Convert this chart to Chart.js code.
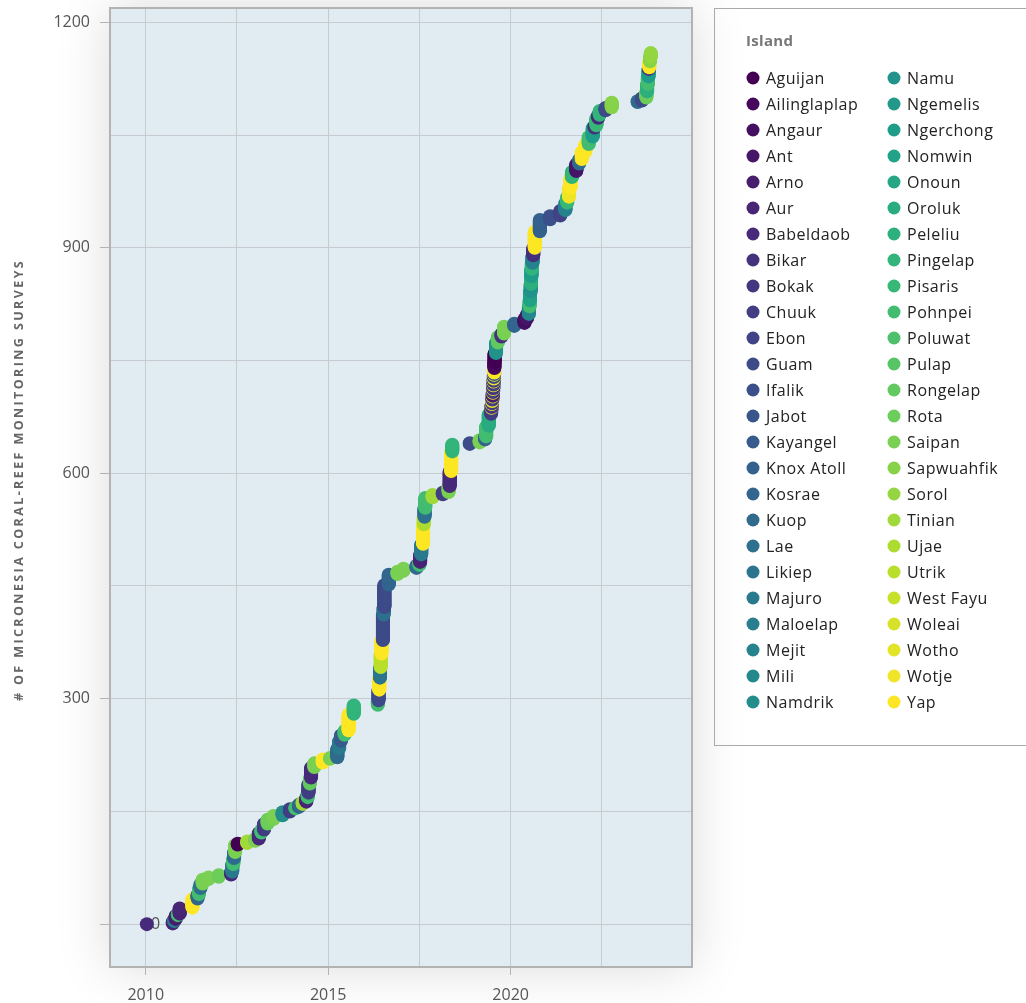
<!DOCTYPE html>
<html>
<head>
<meta charset="utf-8">
<script src="https://cdn.jsdelivr.net/npm/chart.js@4.4.1/dist/chart.umd.min.js"></script>
<style>
html,body{margin:0;padding:0;background:#fff;}
canvas{display:block;}
</style>
</head>
<body>
<canvas id="c" width="1026" height="1003"></canvas>
<script>
// ---------------- DATA ----------------
const islandNames = ["Aguijan","Ailinglaplap","Angaur","Ant","Arno","Aur","Babeldaob","Bikar","Bokak","Chuuk","Ebon","Guam","Ifalik","Jabot","Kayangel","Knox Atoll","Kosrae","Kuop","Lae","Likiep","Majuro","Maloelap","Mejit","Mili","Namdrik","Namu","Ngemelis","Ngerchong","Nomwin","Onoun","Oroluk","Peleliu","Pingelap","Pisaris","Pohnpei","Poluwat","Pulap","Rongelap","Rota","Saipan","Sapwuahfik","Sorol","Tinian","Ujae","Utrik","West Fayu","Woleai","Wotho","Wotje","Yap"];

// survey trips: date (decimal year), island, number of surveys
const tripDates = [
 2010.03,2010.74,2010.78,2010.82,2010.88,2010.93,2011.28,2011.42,2011.46,2011.50,
 2011.56,2011.72,2012.00,2012.34,2012.37,2012.40,2012.42,2012.45,2012.52,2012.78,
 2013.00,2013.10,2013.17,2013.24,2013.34,2013.50,2013.75,2013.95,2014.10,2014.20,
 2014.30,2014.40,2014.44,2014.46,2014.50,2014.53,2014.62,2014.85,2015.05,2015.25,
 2015.30,2015.35,2015.45,2015.56,2015.70,2016.36,2016.38,2016.40,2016.42,2016.44,
 2016.46,2016.50,2016.52,2016.54,2016.66,2016.90,2017.06,2017.42,2017.50,2017.52,
 2017.55,2017.60,2017.62,2017.64,2017.66,2017.86,2018.14,2018.30,2018.33,2018.37,
 2018.40,2018.88,2019.15,2019.30,2019.33,2019.40,2019.465,2019.470,2019.475,2019.480,
 2019.485,2019.490,2019.495,2019.500,2019.505,2019.510,2019.515,2019.520,2019.522,2019.525,
 2019.528,2019.530,2019.532,2019.535,2019.537,2019.540,2019.545,2019.548,2019.550,2019.555,
 2019.56,2019.60,2019.65,2019.75,2019.82,2020.10,2020.38,2020.45,2020.50,2020.52,
 2020.53,2020.55,2020.56,2020.57,2020.58,2020.60,2020.62,2020.66,2020.80,2021.08,
 2021.36,2021.50,2021.55,2021.60,2021.64,2021.68,2021.80,2021.88,2021.95,2022.05,
 2022.14,2022.25,2022.30,2022.35,2022.40,2022.44,2022.60,2022.77,2023.48,2023.60,
 2023.72,2023.74,2023.76,2023.78,2023.79,2023.80,2023.82,2023.84
];
const tripIslands = [
 "Babeldaob","Aur","Majuro","Arno","Pohnpei","Aur","Yap","Kosrae","Pohnpei","Lae",
 "Saipan","Saipan","Rota","Babeldaob","Majuro","Pohnpei","Kuop","Saipan","Aguijan","Tinian",
 "Saipan","Babeldaob","Pohnpei","Chuuk","Rota","Saipan","Namdrik","Chuuk","Pohnpei","Kosrae",
 "Tinian","Aur","Pohnpei","Chuuk","Rongelap","Babeldaob","Saipan","Yap","Saipan","Kuop",
 "Majuro","Kayangel","Pohnpei","Yap","Pingelap","Pohnpei","Guam","Yap","Likiep","Utrik",
 "Yap","Guam","Lae","Guam","Kosrae","Saipan","Saipan","Kuop","Pohnpei","Aur",
 "Majuro","Yap","Ujae","Lae","Pohnpei","Tinian","Chuuk","Saipan","Babeldaob","Yap",
 "Pingelap","Guam","Saipan","Knox Atoll","Pohnpei","Oroluk","Chuuk","Chuuk","Yap","Bokak",
 "Yap","Chuuk","Wotje","Chuuk","Yap","Arno","Yap","Chuuk","Yap","Bokak",
 "Yap","Ebon","Yap","Chuuk","Wotje","Guam","Yap","Kayangel","Yap","Ailinglaplap",
 "Aguijan","Namu","Rongelap","Bikar","Saipan","Kosrae","Angaur","Ant","Mili","Pohnpei",
 "Nomwin","Namu","Peleliu","Ngerchong","Pingelap","Mejit","Bikar","Yap","Knox Atoll","Ifalik",
 "Ebon","Mejit","Pisaris","Wotje","Yap","Pingelap","Ant","Kuop","Yap","Yap",
 "Pohnpei","Ngerchong","Bikar","Pisaris","Babeldaob","Pingelap","Guam","Sapwuahfik","Kuop","Guam",
 "Rota","Peleliu","Pohnpei","Ngerchong","Bikar","Yap","Sapwuahfik","Sorol"
];
const tripCounts = [
 1,3,3,5,2,8,12,6,8,6,
 6,3,3,4,10,8,8,10,2,3,
 3,8,4,8,6,5,5,4,2,4,
 3,6,6,12,8,14,6,5,2,12,
 10,8,6,22,12,6,14,16,14,18,
 18,34,10,30,14,4,4,4,4,10,
 14,26,10,12,14,4,3,8,20,26,
 10,2,4,4,14,16,4,4,1,4,
 1,3,2,4,1,4,1,4,1,4,
 1,4,1,3,2,3,1,2,6,8,
 12,14,8,4,10,4,6,6,10,8,
 12,10,10,10,8,10,10,22,16,5,
 7,10,8,12,14,8,10,6,10,10,
 10,12,3,10,4,6,4,7,2,4,
 8,10,10,10,2,8,6,6
];

const xGridValues = [2010, 2012.5, 2015, 2017.5, 2020, 2022.5];
const xGridLabels = ["2010", "", "2015", "", "2020", ""];
const yGridValues = [0, 150, 300, 450, 600, 750, 900, 1050, 1200];
const yGridLabels = ["", "", "300", "", "600", "", "900", "", "1200"];
const zeroLabel = "0";
const yAxisTitle = "# OF MICRONESIA CORAL-REEF MONITORING SURVEYS";
const legendTitle = "Island";

// ---------------- COLOURS (viridis) ----------------
const VIR = ['#440154','#482878','#3E4A89','#31688E','#26828E','#1F9E89','#35B779','#6DCD59','#B4DE2C','#FDE725'];
function hex2rgb(h){return [parseInt(h.substr(1,2),16),parseInt(h.substr(3,2),16),parseInt(h.substr(5,2),16)];}
function viridis(t){
  const p = t*(VIR.length-1);
  const i = Math.min(VIR.length-2, Math.floor(p));
  const f = p - i;
  const a = hex2rgb(VIR[i]), b = hex2rgb(VIR[i+1]);
  const c = a.map((v,k)=>Math.round(v+(b[k]-v)*f));
  return 'rgb('+c.join(',')+')';
}
const islandColors = islandNames.map((n,i)=>viridis(i/(islandNames.length-1)));

// ---------------- BUILD POINTS (in survey order) ----------------
const points = [], pointColors = [];
let cumulative = 0;
for (let r=0; r<tripDates.length; r++){
  const col = islandColors[islandNames.indexOf(tripIslands[r])];
  for (let j=0; j<tripCounts[r]; j++){
    points.push({x: tripDates[r], y: cumulative});
    pointColors.push(col);
    cumulative++;
  }
}

const FONT = '"Open Sans", "DejaVu Sans", sans-serif';
const GRID = '#c6cbd1';
const AXIS = '#b3b3b3';

const bgPlugin = {
  id: 'bg',
  beforeDraw(chart){
    const {ctx, chartArea: a} = chart;
    ctx.save();
    ctx.fillStyle = '#ffffff';
    ctx.fillRect(0,0,chart.width,chart.height);
    ctx.shadowColor = 'rgba(0,0,0,0.15)';
    ctx.shadowBlur = 50;
    ctx.fillStyle = '#e1ebf2';
    ctx.fillRect(a.left, a.top, a.right-a.left, a.bottom-a.top);
    ctx.restore();
  },
  beforeDatasetsDraw(chart){
    const {ctx, chartArea: a} = chart;
    ctx.save();
    ctx.strokeStyle = AXIS;
    ctx.lineWidth = 2;
    ctx.strokeRect(a.left, a.top, a.right-a.left, a.bottom-a.top);
    ctx.font = '16px ' + FONT;
    ctx.fillStyle = '#555';
    ctx.textAlign = 'left';
    ctx.textBaseline = 'middle';
    ctx.fillText(zeroLabel, a.left + 41, chart.scales.y.getPixelForValue(0));
    ctx.restore();
  },
  afterDraw(chart){
    const ctx = chart.ctx;
    ctx.save();
    ctx.translate(19, 480);
    ctx.rotate(-Math.PI/2);
    ctx.font = 'bold 12.5px ' + FONT;
    try { ctx.letterSpacing = '2.4px'; } catch(e) {}
    ctx.fillStyle = '#666';
    ctx.textAlign = 'center';
    ctx.textBaseline = 'middle';
    ctx.fillText(yAxisTitle, 0, 0);
    ctx.restore();

    ctx.save();
    ctx.strokeStyle = '#aaaaaa';
    ctx.lineWidth = 1;
    ctx.strokeRect(714.5, 8.5, 340, 737);
    ctx.font = 'bold 15px ' + FONT;
    try { ctx.letterSpacing = '0.3px'; } catch(e) {}
    ctx.fillStyle = '#777';
    ctx.textAlign = 'left';
    ctx.textBaseline = 'middle';
    ctx.fillText(legendTitle, 746, 42);
    const perCol = Math.ceil(islandNames.length/2);
    ctx.font = '16px ' + FONT;
    try { ctx.letterSpacing = '0.5px'; } catch(e) {}
    islandNames.forEach((name,i)=>{
      const col = Math.floor(i/perCol), row = i % perCol;
      const y = 78 + row*26;
      const x = 753 + col*141;
      ctx.beginPath();
      ctx.arc(x, y, 6.5, 0, Math.PI*2);
      ctx.fillStyle = islandColors[i];
      ctx.fill();
      ctx.fillStyle = '#222';
      ctx.fillText(name, x + 13, y + 1);
    });
    ctx.restore();
  }
};

new Chart(document.getElementById('c'), {
  type: 'scatter',
  data: { datasets: [{
    label: 'Surveys',
    data: points,
    backgroundColor: pointColors,
    borderWidth: 0,
    pointRadius: 7,
    pointHoverRadius: 7
  }] },
  options: {
    responsive: false,
    devicePixelRatio: 1,
    animation: false,
    events: [],
    layout: { padding: { left: 0, top: 8, right: 334, bottom: 0 } },
    plugins: { legend: { display: false }, tooltip: { enabled: false } },
    scales: {
      x: {
        type: 'linear',
        min: 2009.02,
        max: 2024.97,
        afterBuildTicks: s => { s.ticks = xGridValues.map(v=>({value:v})); },
        afterFit: s => { s.height = 36; s.paddingLeft = 0; s.paddingRight = 0; },
        ticks: {
          autoSkip: false, maxRotation: 0, padding: 11,
          font: { family: FONT, size: 16 }, color: '#555',
          callback: (v,i) => xGridLabels[i]
        },
        grid: {
          color: GRID, lineWidth: 1, tickLength: 8,
          tickColor: c => (c.tick && Math.abs(c.tick.value % 5) < 1e-6) ? AXIS : 'rgba(0,0,0,0)'
        },
        border: { color: AXIS, width: 2 }
      },
      y: {
        type: 'linear',
        min: -57,
        max: 1219,
        afterBuildTicks: s => { s.ticks = yGridValues.map(v=>({value:v})); },
        afterFit: s => { s.width = 110; s.paddingTop = 0; s.paddingBottom = 0; },
        ticks: {
          autoSkip: false, padding: 10,
          font: { family: FONT, size: 16 }, color: '#555',
          callback: (v,i) => yGridLabels[i]
        },
        grid: {
          color: GRID, lineWidth: 1, tickLength: 10,
          tickColor: c => (c.tick && c.tick.value % 300 === 0) ? AXIS : 'rgba(0,0,0,0)'
        },
        border: { color: AXIS, width: 2 }
      }
    }
  },
  plugins: [bgPlugin]
});
</script>
</body>
</html>
